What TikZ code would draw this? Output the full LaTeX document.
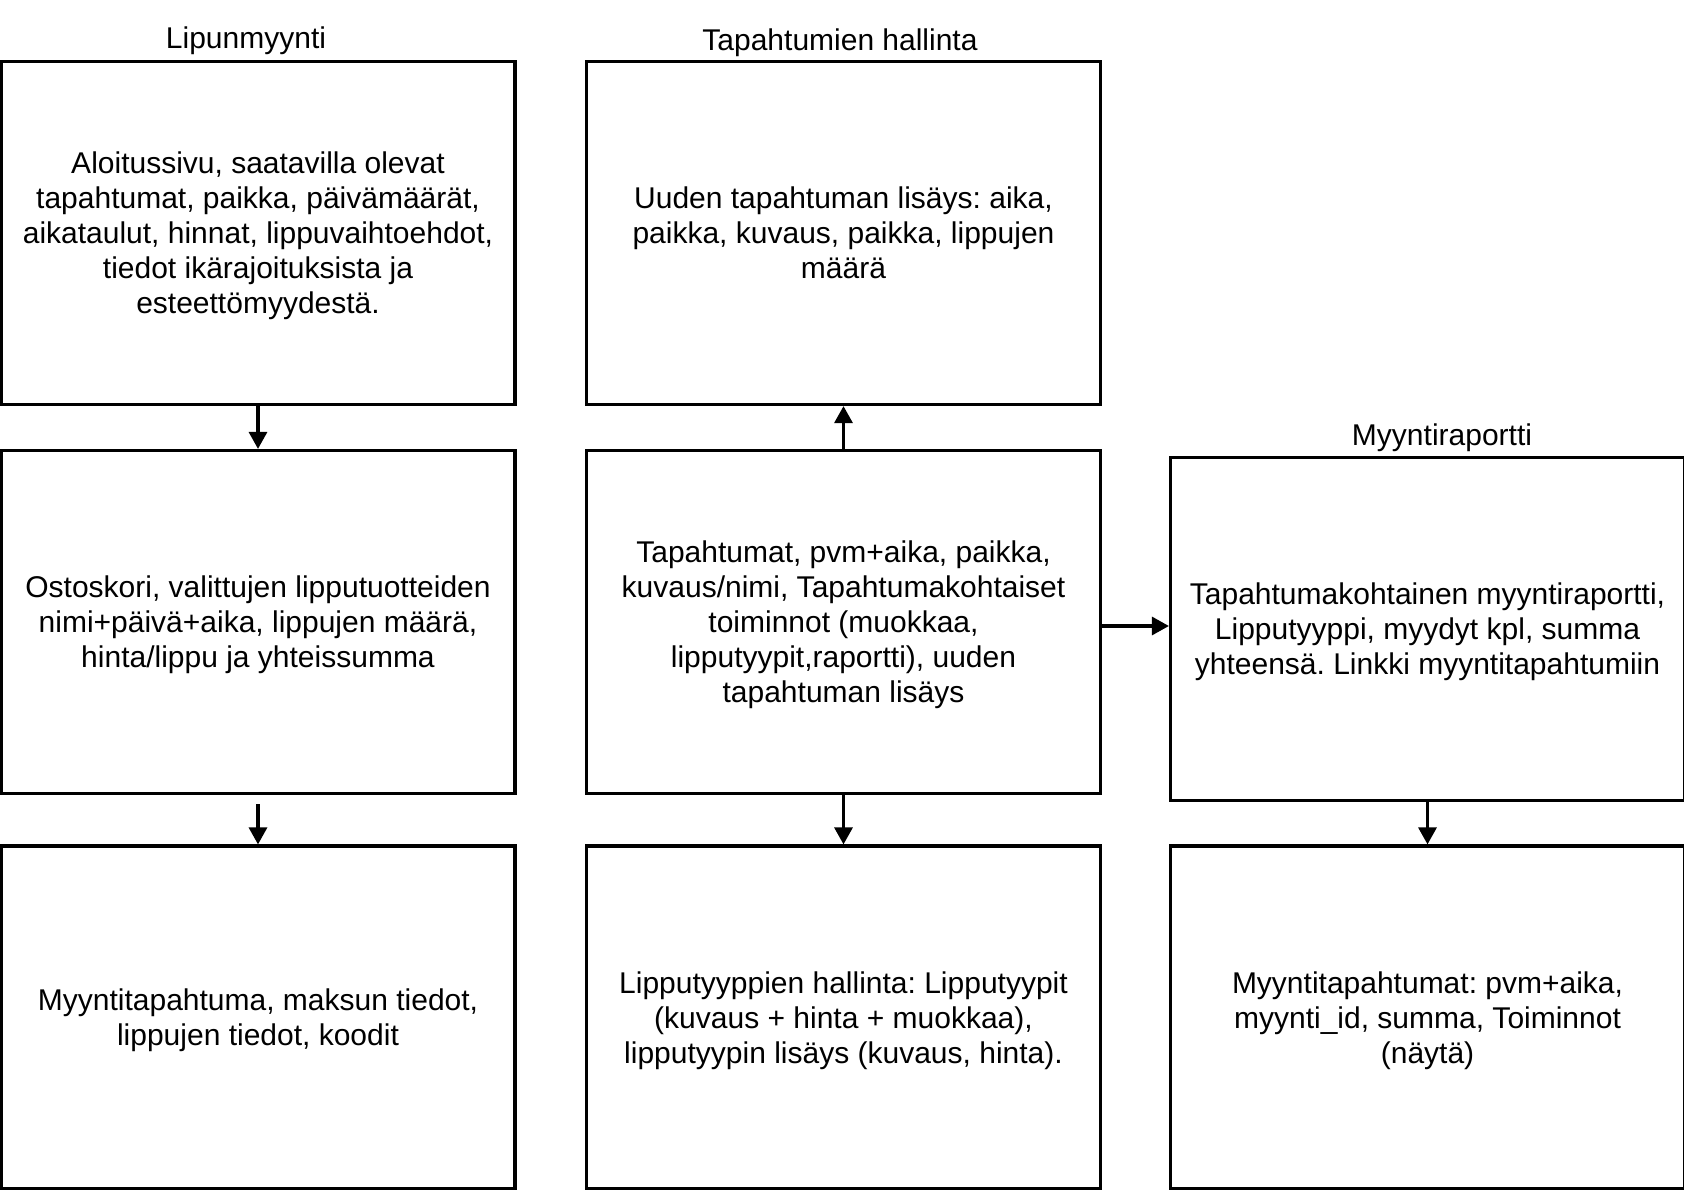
\documentclass[tikz,border=0pt]{standalone}
\usepackage{fontspec}
\setmainfont{Liberation Sans}
\usepackage{tikz}
\usetikzlibrary{arrows.meta}
\frenchspacing

\begin{document}
\begin{tikzpicture}[x=1pt,y=-1pt,
		box/.style={draw,line width=3.2pt,minimum width=514pt,minimum height=343pt,align=center,inner sep=0pt,text depth=0pt,font=\fontsize{30}{35}\selectfont},
		ttl/.style={font=\fontsize{30}{35}\selectfont,inner sep=0pt,text depth=0pt},
		arr/.style={line width=3.2pt,-{Triangle[length=17pt,width=18pt]}}]
		\useasboundingbox (0,0) rectangle (1684,1190);
		% otsikot
		\node[ttl] (t1) at (246,38) {Lipunmyynti};
		\node[ttl] (t2) at (840,40) {Tapahtumien hallinta};
		\node[ttl] (t3) at (1442,435) {Myyntiraportti};
		% laatikot
		\node[box] (b1) at (258,233) {Aloitussivu, saatavilla olevat\\tapahtumat, paikka, päivämäärät,\\aikataulut, hinnat, lippuvaihtoehdot,\\tiedot ikärajoituksista ja\\esteettömyydestä.};
		\node[box] (b2) at (843.5,233) {Uuden tapahtuman lisäys: aika,\\paikka, kuvaus, paikka, lippujen\\määrä};
		\node[box] (b4) at (258,622) {Ostoskori, valittujen lipputuotteiden\\nimi+päivä+aika, lippujen määrä,\\hinta/lippu ja yhteissumma};
		\node[box] (b5) at (843.5,622) {Tapahtumat, pvm+aika, paikka,\\kuvaus/nimi, Tapahtumakohtaiset\\toiminnot (muokkaa,\\lipputyypit,raportti), uuden\\tapahtuman lisäys};
		\node[box] (b6) at (1427.5,629) {Tapahtumakohtainen myyntiraportti,\\Lipputyyppi, myydyt kpl, summa\\yhteensä. Linkki myyntitapahtumiin};
		\node[box] (b7) at (258,1017.5) {Myyntitapahtuma, maksun tiedot,\\lippujen tiedot, koodit};
		\node[box] (b8) at (843.5,1017.5) {Lipputyyppien hallinta: Lipputyypit\\(kuvaus + hinta + muokkaa),\\lipputyypin lisäys (kuvaus, hinta).};
		\node[box] (b9) at (1427.5,1017.5) {Myyntitapahtumat: pvm+aika,\\myynti\_id, summa, Toiminnot\\(näytä)};
		% nuolet
		\coordinate (m) at ([yshift=-4pt]b5.east);
		\draw[arr] (b1) -- (b4);
		\draw[arr,shorten <=9pt] (b4) -- (b7);
		\draw[arr] (b5) -- (b2);
		\draw[arr] (b5) -- (b8);
		\draw[arr] (m) -- (m -| b6.west);
		\draw[arr] (b6) -- (b6 |- b9.north);
	\end{tikzpicture}
\end{document}
